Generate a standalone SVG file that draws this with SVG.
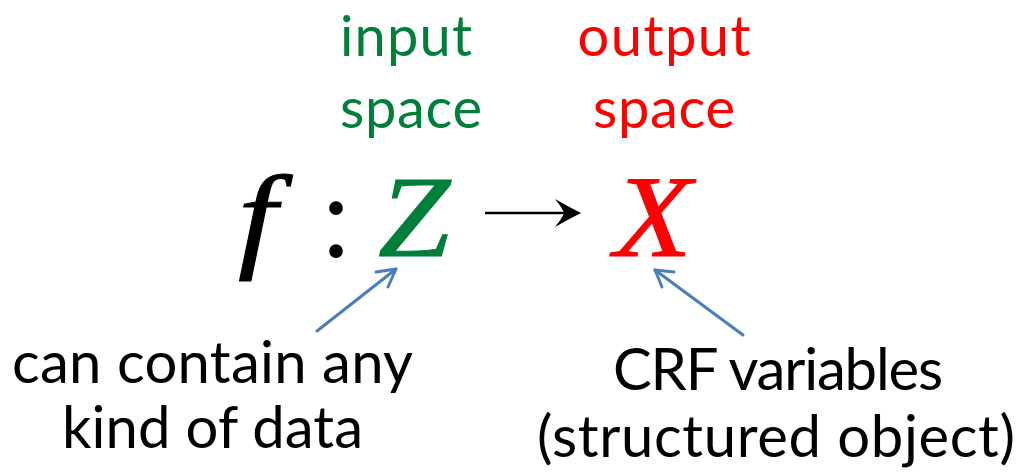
<svg xmlns="http://www.w3.org/2000/svg" width="1028" height="475" viewBox="0 0 1028 475">
  <style>
    .lbl { font-family: Lato, "Open Sans", sans-serif; }
    .top { font-size: 56px; }
    .bot { font-size: 58px; fill: #000; text-anchor: middle; }
    .math { font-family: "Liberation Serif", "Times New Roman", serif; font-style: italic; font-size: 116px; stroke-width: 1; }
    .green { fill: #007F3A; }
    .red { fill: #FF0000; }
    .conn { stroke: #4A7EBB; stroke-width: 3; fill: none; stroke-linecap: round; stroke-linejoin: round; }
  </style>
  <g id="input-label" class="lbl top green">
    <text x="340" y="56" textLength="132" lengthAdjust="spacing">input</text>
    <text x="340" y="128" textLength="142" lengthAdjust="spacing">space</text>
  </g>
  <g id="output-label" class="lbl top red" text-anchor="middle">
    <text x="664" y="56" textLength="173" lengthAdjust="spacing">output</text>
    <text x="664" y="128" textLength="142" lengthAdjust="spacing">space</text>
  </g>
  <g id="formula">
    <text class="math" transform="translate(238,256) scale(1.2,1)" x="0" y="0" fill="#000" stroke="#000">f</text>
    <text x="320" y="256" font-family="Liberation Serif, serif" font-size="116" fill="#000">:</text>
    <text class="math green" transform="translate(378,256) scale(1.12,1)" x="0" y="0" stroke="#007F3A">Z</text>
    <line x1="485" y1="213" x2="570" y2="213" stroke="#000" stroke-width="2.5"/>
    <path d="M581,213 Q567,206 555,199 Q563,209 564,213 Q563,217 555,227 Q567,220 581,213 Z" fill="#000"/>
    <text class="math red" transform="translate(614,256) scale(1.1,1)" x="0" y="0" stroke="#FF0000">X</text>
  </g>
  <g id="left-note" class="lbl bot">
    <text x="212.5" y="383" textLength="401" lengthAdjust="spacing">can contain any</text>
    <text x="212.5" y="448" textLength="301" lengthAdjust="spacing">kind of data</text>
  </g>
  <g id="right-note" class="lbl bot">
    <text x="778" y="390" textLength="330" lengthAdjust="spacing">CRF variables</text>
    <text x="776" y="457" textLength="478" lengthAdjust="spacing">(structured object)</text>
  </g>
  <g id="connectors">
    <path class="conn" d="M317,331 L396,269"/>
    <path class="conn" d="M376,272 L396,269 L388,287"/>
    <path class="conn" d="M743,335 L655,270"/>
    <path class="conn" d="M674,272 L655,270 L662,287"/>
  </g>
</svg>
